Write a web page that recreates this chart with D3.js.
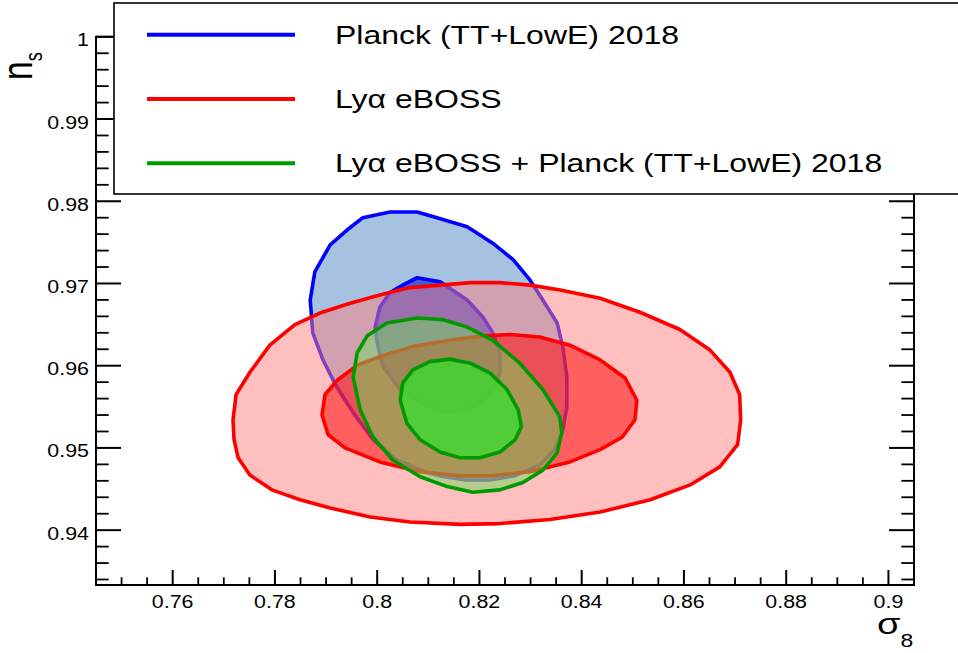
<!DOCTYPE html>
<html>
<head>
<meta charset="utf-8">
<script src="https://cdn.jsdelivr.net/npm/d3@7"></script>
<style>
  html, body { margin: 0; padding: 0; background: #fff; }
  svg { display: block; }
  text { font-family: "Liberation Sans", Arial, Helvetica, sans-serif; fill: #000; }
</style>
</head>
<body>
<svg id="chart" width="958" height="653"></svg>
<script>
// ---------------- data (sigma8, n_s) ----------------
const seriesNames = ["Planck (TT+LowE) 2018", "Lyα eBOSS", "Lyα eBOSS + Planck (TT+LowE) 2018"];

const planckOuter = [
  [0.7869,0.9680],[0.7878,0.9714],[0.7908,0.9747],[0.7941,0.9765],[0.7972,0.9780],[0.8025,0.9787],
  [0.8078,0.9787],[0.8117,0.9780],[0.8176,0.9769],[0.8226,0.9749],[0.8266,0.9729],[0.8299,0.9704],
  [0.8324,0.9680],[0.8352,0.9652],[0.8363,0.9623],[0.8371,0.9586],[0.8371,0.9550],[0.8363,0.9522],
  [0.8347,0.9498],[0.8318,0.9479],[0.8269,0.9466],[0.8221,0.9461],[0.8172,0.9461],[0.8123,0.9466],
  [0.8098,0.9470],[0.8039,0.9485],[0.7992,0.9510],[0.7953,0.9543],[0.7921,0.9574],[0.7894,0.9607],
  [0.7874,0.9640]
];
const planckInner = [
  [0.8078,0.9707],[0.8123,0.9702],[0.8176,0.9680],[0.8207,0.9659],[0.8226,0.9640],[0.8240,0.9616],
  [0.8240,0.9591],[0.8226,0.9571],[0.8201,0.9555],[0.8176,0.9546],[0.8129,0.9544],[0.8084,0.9555],
  [0.8045,0.9571],[0.8011,0.9599],[0.8000,0.9628],[0.7996,0.9647],[0.8005,0.9671],[0.8025,0.9689],
  [0.8050,0.9698]
];
const lyaOuter = [
  [0.7718,0.9534],[0.7724,0.9565],[0.7751,0.9592],[0.7790,0.9625],[0.7839,0.9650],[0.7888,0.9664],
  [0.7947,0.9676],[0.8005,0.9686],[0.8064,0.9695],[0.8123,0.9698],[0.8182,0.9701],[0.8240,0.9701],
  [0.8299,0.9698],[0.8358,0.9692],[0.8436,0.9682],[0.8514,0.9665],[0.8592,0.9644],[0.8651,0.9619],
  [0.8690,0.9592],[0.8709,0.9565],[0.8711,0.9534],[0.8705,0.9504],[0.8670,0.9477],[0.8612,0.9455],
  [0.8534,0.9437],[0.8436,0.9422],[0.8338,0.9413],[0.8240,0.9408],[0.8162,0.9407],[0.8064,0.9410],
  [0.7986,0.9416],[0.7908,0.9427],[0.7849,0.9437],[0.7794,0.9449],[0.7751,0.9467],[0.7728,0.9488],
  [0.7720,0.9510]
];
const lyaInner = [
  [0.7892,0.9540],[0.7898,0.9565],[0.7923,0.9583],[0.7962,0.9601],[0.8015,0.9613],[0.8074,0.9624],
  [0.8142,0.9631],[0.8201,0.9636],[0.8260,0.9638],[0.8318,0.9635],[0.8377,0.9625],[0.8436,0.9607],
  [0.8485,0.9585],[0.8508,0.9558],[0.8504,0.9534],[0.8479,0.9513],[0.8436,0.9498],[0.8377,0.9483],
  [0.8299,0.9471],[0.8221,0.9466],[0.8162,0.9466],[0.8084,0.9471],[0.8005,0.9483],[0.7937,0.9500],
  [0.7904,0.9516]
];
const combOuter = [
  [0.7953,0.9586],[0.7961,0.9616],[0.7980,0.9636],[0.8019,0.9652],[0.8078,0.9658],[0.8129,0.9656],
  [0.8176,0.9647],[0.8226,0.9631],[0.8279,0.9603],[0.8324,0.9571],[0.8357,0.9538],[0.8361,0.9518],
  [0.8352,0.9494],[0.8324,0.9473],[0.8285,0.9458],[0.8240,0.9449],[0.8187,0.9446],[0.8137,0.9453],
  [0.8084,0.9465],[0.8031,0.9485],[0.7992,0.9513],[0.7967,0.9546]
];
const combInner = [
  [0.8045,0.9558],[0.8050,0.9579],[0.8070,0.9595],[0.8103,0.9605],[0.8142,0.9608],[0.8182,0.9603],
  [0.8221,0.9591],[0.8254,0.9571],[0.8276,0.9546],[0.8282,0.9526],[0.8270,0.9510],[0.8240,0.9495],
  [0.8201,0.9488],[0.8162,0.9488],[0.8123,0.9495],[0.8084,0.9510],[0.8058,0.9530]
];

const xTicks = [0.76, 0.78, 0.80, 0.82, 0.84, 0.86, 0.88, 0.90];
const xTickLabels = ["0.76", "0.78", "0.8", "0.82", "0.84", "0.86", "0.88", "0.9"];
const yTicks = [0.94, 0.95, 0.96, 0.97, 0.98, 0.99, 1.00];
const yTickLabels = ["0.94", "0.95", "0.96", "0.97", "0.98", "0.99", "1"];

// ---------------- layout ----------------
const svg = d3.select("#chart");
const L = 96, R = 914, T = 36.8, B = 585;
const x = d3.scaleLinear().domain([0.745, 0.905]).range([L, R]);
const y = d3.scaleLinear().domain([0.93333, 1.0]).range([B, T]);
const SQ = 0.8;      // vertical text compression
const SQT = 0.87;    // tick label compression

const line = d3.line().x(d => x(d[0])).y(d => y(d[1])).curve(d3.curveLinearClosed);

const layers = [
  { data: planckOuter, fill: "#a5c3e0", stroke: "#0000ff" },
  { data: planckInner, fill: "#3c5fdc", stroke: "#0000ff" },
  { data: lyaOuter, fill: "rgba(255,128,128,0.5)", stroke: "#ff0000" },
  { data: lyaInner, fill: "rgba(255,0,0,0.5)", stroke: "#ff0000" },
  { data: combOuter, fill: "rgba(110,220,90,0.5)", stroke: "#009900" },
  { data: combInner, fill: "rgba(58,219,47,0.8)", stroke: "#009900" }
];
svg.append("g").selectAll("path").data(layers).join("path")
  .attr("d", d => line(d.data))
  .attr("fill", d => d.fill)
  .attr("stroke", d => d.stroke)
  .attr("stroke-width", 3.6)
  .attr("stroke-linejoin", "round");

// ---------------- axes ----------------
const ax = svg.append("g").attr("stroke", "#000");
const xMinor = d3.range(0.745, 0.9051, 0.005).filter(v => !xTicks.some(t => Math.abs(t - v) < 1e-6));
const yMinor = d3.range(0.934, 1.0001, 0.002).filter(v => !yTicks.some(t => Math.abs(t - v) < 1e-6));

xTicks.forEach(v => ax.append("line").attr("x1", x(v)).attr("x2", x(v)).attr("y1", B).attr("y2", B - 15).attr("stroke-width", 2));
xMinor.forEach(v => ax.append("line").attr("x1", x(v)).attr("x2", x(v)).attr("y1", B).attr("y2", B - 7.7).attr("stroke-width", 1.8));
yTicks.forEach(v => {
  ax.append("line").attr("x1", L).attr("x2", L + 25).attr("y1", y(v)).attr("y2", y(v)).attr("stroke-width", 2);
  ax.append("line").attr("x1", R).attr("x2", R - 25).attr("y1", y(v)).attr("y2", y(v)).attr("stroke-width", 2);
});
yMinor.forEach(v => {
  ax.append("line").attr("x1", L).attr("x2", L + 12.7).attr("y1", y(v)).attr("y2", y(v)).attr("stroke-width", 1.8);
  ax.append("line").attr("x1", R).attr("x2", R - 12.7).attr("y1", y(v)).attr("y2", y(v)).attr("stroke-width", 1.8);
});
ax.append("rect").attr("x", L).attr("y", T).attr("width", R - L).attr("height", B - T)
  .attr("fill", "none").attr("stroke-width", 2);

function squishText(parent, px, py, sq) {
  return parent.append("g").attr("transform", `translate(${px},${py}) scale(1,${sq})`);
}
xTicks.forEach((v, i) => {
  squishText(svg, x(v), 608, SQT).append("text").attr("text-anchor", "middle")
    .style("font-size", "21.4px").text(xTickLabels[i]);
});
yTicks.forEach((v, i) => {
  squishText(svg, 89, y(v) + 9.5, SQT).append("text").attr("text-anchor", "end")
    .style("font-size", "21.4px").text(yTickLabels[i]);
});

// axis titles
const yt = svg.append("g").attr("transform", `translate(32,80) scale(1,${SQ}) rotate(-90)`)
  .append("text").style("font-size", "42px");
yt.append("tspan").text("n");
yt.append("tspan").attr("dy", 10).style("font-size", "23px").text("s");

const xt = squishText(svg, 877, 634, SQ).append("text").style("font-size", "38px");
xt.append("tspan").text("σ");
xt.append("tspan").attr("dy", 16).style("font-size", "23px").text("8");

// ---------------- legend ----------------
const lg = svg.append("g");
lg.append("rect").attr("x", 114).attr("y", 3).attr("width", 860).attr("height", 191)
  .attr("fill", "#fff").attr("stroke", "#000").attr("stroke-width", 1.6);
const legColors = ["#0000ff", "#ff0000", "#009900"];
const legY = [34.7, 99, 163.3];
seriesNames.forEach((name, i) => {
  lg.append("line").attr("x1", 147).attr("x2", 295).attr("y1", legY[i]).attr("y2", legY[i])
    .attr("stroke", legColors[i]).attr("stroke-width", 4);
  squishText(lg, 335, legY[i] + 8.8, SQ).append("text").style("font-size", "32px").text(name);
});
</script>
</body>
</html>
